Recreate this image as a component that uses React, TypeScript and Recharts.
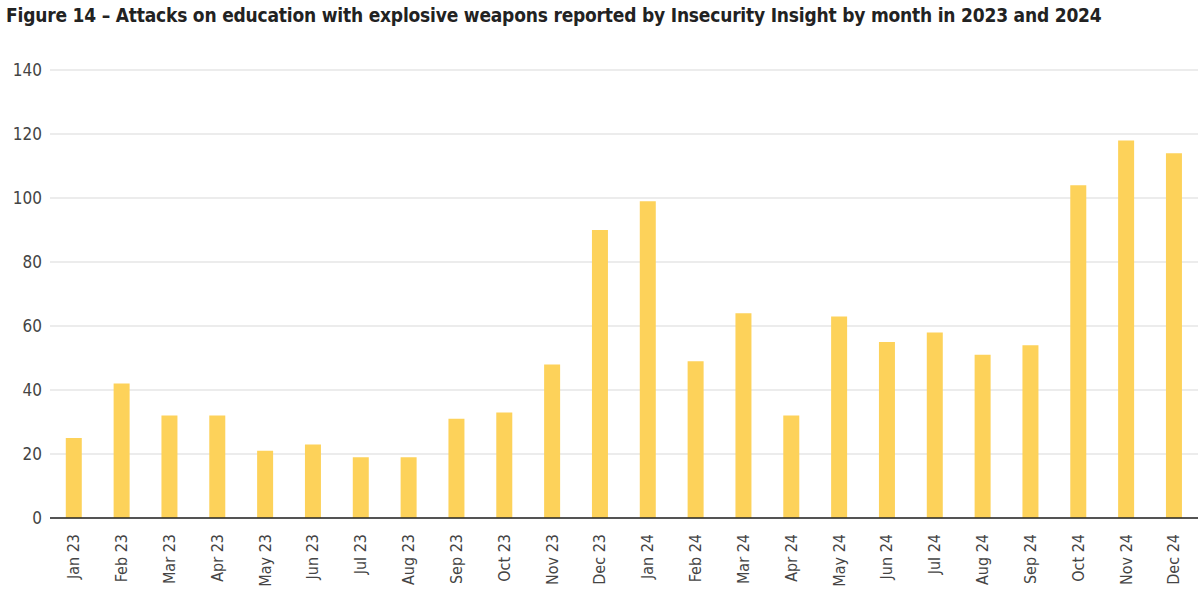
import React from "react";
import { BarChart, Bar, XAxis, YAxis, CartesianGrid } from "recharts";

const months = ["Jan 23","Feb 23","Mar 23","Apr 23","May 23","Jun 23","Jul 23","Aug 23","Sep 23","Oct 23","Nov 23","Dec 23","Jan 24","Feb 24","Mar 24","Apr 24","May 24","Jun 24","Jul 24","Aug 24","Sep 24","Oct 24","Nov 24","Dec 24"];
const attacks = [25,42,32,32,21,23,19,19,31,33,48,90,99,49,64,32,63,55,58,51,54,104,118,114];
const yTicks = [0,20,40,60,80,100,120,140];

const data = months.map((m, i) => ({ month: m, value: attacks[i] }));
const font = "'Liberation Sans Narrow', 'DejaVu Sans Condensed', sans-serif";

export default function App() {
  return (
    <div style={{ position: "absolute", left: 0, top: 0, width: 1200, height: 591, background: "#fff", fontFamily: font }}>
      <div style={{ position: "absolute", left: 6, top: 4, fontSize: 19, fontWeight: "bold", color: "#222", letterSpacing: -0.2 }}>
        Figure 14 – Attacks on education with explosive weapons reported by Insecurity Insight by month in 2023 and 2024
      </div>
      <div style={{ position: "absolute", left: 0, top: 0 }}>
        <BarChart width={1200} height={591} data={data} margin={{ top: 70, right: 2, bottom: 0, left: 0 }} barCategoryGap="33%">
          <CartesianGrid vertical={false} stroke="#d9d9d9" />
          <XAxis dataKey="month" interval={0} angle={-90} textAnchor="end" dx={-6} dy={8} height={73}
            tick={{ fontSize: 16, fill: "#444", fontFamily: font }} tickLine={false}
            axisLine={{ stroke: "#222", strokeWidth: 1.5 }} />
          <YAxis domain={[0, 140]} ticks={yTicks} width={50} axisLine={false} tickLine={false}
            tick={{ fontSize: 17, fill: "#444", fontFamily: font }} />
          <Bar dataKey="value" fill="#FDD25A" isAnimationActive={false} />
        </BarChart>
      </div>
    </div>
  );
}
